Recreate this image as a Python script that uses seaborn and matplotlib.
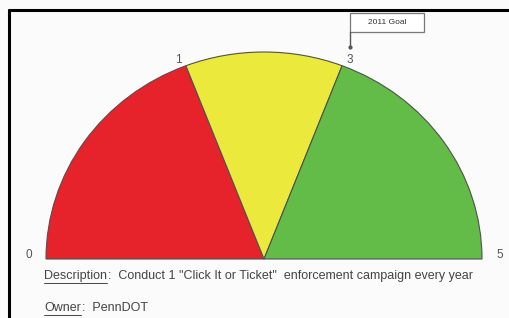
import numpy as np
import seaborn as sns
import matplotlib.pyplot as plt
from matplotlib.patches import Wedge, Rectangle
from matplotlib.lines import Line2D

# dial values, and where each tick sits on the dial (degrees)
tick_values = [0, 1, 3, 5]
tick_angles = [180, 111, 69, 0]
band_colors = ['#e6232b', '#ebe93b', '#63bc47']
goal_value = 3
goal_label = '2011 Goal'
desc_label = 'Description'
desc_text = 'Conduct 1 "Click It or Ticket"  enforcement campaign every year'
owner_label = 'Owner'
owner_text = 'PennDOT'

sns.set_style('white')
plt.rcParams['font.family'] = ['Liberation Sans', 'DejaVu Sans']

W, H = 510, 318
fig = plt.figure(figsize=(W / 100, H / 100), dpi=100)
fig.patch.set_facecolor('#fbfbfb')

# axes fill the whole figure; dial centre at pixel (264, 59 from bottom)
cx, cy, rx, ry = 264, 59, 218, 207
ax = fig.add_axes([0, 0, 1, 1])
ax.set_xlim(-cx / rx, (W - cx) / rx)
ax.set_ylim(-cy / ry, (H - cy) / ry)
ax.set_axis_off()

# colour bands
for i, col in enumerate(band_colors):
    a1, a0 = tick_angles[i], tick_angles[i + 1]
    ax.add_patch(Wedge((0, 0), 1, a0, a1, facecolor=col, edgecolor='#505050', linewidth=0.8))

# tick labels round the dial
def label_pos(a):
    t = np.deg2rad(a)
    if a in (0, 180):
        return 1.08 * np.cos(t), 0.02
    return 1.03 * np.cos(t) + np.sign(np.cos(t)) * 0.025, 1.03 * np.sin(t)

for v, a in zip(tick_values, tick_angles):
    x, y = label_pos(a)
    ax.text(x, y, str(v), ha='center', va='center', fontsize=8.5, color='#555555')

# goal flag above the goal tick
gx, gy = label_pos(tick_angles[tick_values.index(goal_value)])
ax.plot([gx, gx], [1.025, 1.097], color='#555555', linewidth=1.0)
ax.plot([gx], [1.025], marker='o', markersize=2, color='#555555')
ax.add_patch(Rectangle((gx, 1.097), 0.34, 0.092, facecolor='white', edgecolor='#777777', linewidth=0.9))
ax.text(gx + 0.17, 1.143, goal_label, ha='center', va='center', fontsize=6, color='#333333')

# description / owner lines with underlined captions
def caption(y, label, rest):
    t1 = fig.text(44 / W, y, label, ha='left', va='center', fontsize=9, color='#444444')
    fig.canvas.draw()
    bb = t1.get_window_extent()
    fig.add_artist(Line2D([bb.x0 / W, bb.x1 / W], [(bb.y0 - 1) / H] * 2, color='#444444', linewidth=0.7))
    fig.text((bb.x1 + 1) / W, y, ':  ' + rest, ha='left', va='center', fontsize=9, color='#444444')

caption(1 - 276 / H, desc_label, desc_text)
caption(1 - 308 / H, owner_label, owner_text)

# frame on the left and top edges
fig.add_artist(Line2D([9.5 / W, 9.5 / W], [0, 1 - 9.5 / H], color='black', linewidth=2.2))
fig.add_artist(Line2D([9.5 / W, 1], [1 - 9.5 / H] * 2, color='black', linewidth=2.2))

fig.savefig('out.png', dpi=100)
